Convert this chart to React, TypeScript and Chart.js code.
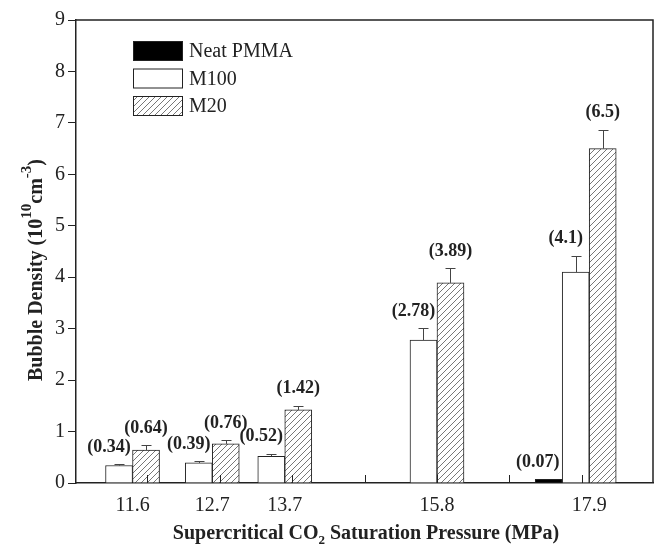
import React, { useEffect, useRef } from "react";
import { Chart, registerables } from "chart.js";

Chart.register(...registerables);

// ---------- data ----------
const pressures = [11.6, 12.7, 13.7, 15.8, 17.9];
const tickLabels = ["11.6", "12.7", "13.7", "15.8", "17.9"];
const seriesNames = ["Neat PMMA", "M100", "M20"];
const neatPMMA: (number | null)[] = [null, null, null, null, 0.07];
const m100: (number | null)[] = [0.34, 0.39, 0.52, 2.78, 4.1];
const m20: (number | null)[] = [0.64, 0.76, 1.42, 3.89, 6.5];
const neatErr: (number | null)[] = [null, null, null, null, 0];
const m100Err: (number | null)[] = [0.03, 0.03, 0.05, 0.23, 0.32];
const m20Err: (number | null)[] = [0.09, 0.07, 0.08, 0.29, 0.37];
const xTickMarks = [11.8, 12.8, 13.8, 14.8, 15.8, 16.8, 17.8];
const yMin = 0;
const yMax = 9;
const xMin = 10.82;
const xMax = 18.78;

const SERIF = "'Liberation Serif', 'Times New Roman', serif";
const INK = "#222";

function makeHatch(ctx: CanvasRenderingContext2D) {
  const s = 6;
  const c = document.createElement("canvas");
  c.width = s;
  c.height = s;
  const g = c.getContext("2d")!;
  g.fillStyle = "#fff";
  g.fillRect(0, 0, s, s);
  g.strokeStyle = "#555";
  g.lineWidth = 0.8;
  g.beginPath();
  g.moveTo(0, s);
  g.lineTo(s, 0);
  g.moveTo(-1, 1);
  g.lineTo(1, -1);
  g.moveTo(s - 1, s + 1);
  g.lineTo(s + 1, s - 1);
  g.stroke();
  return ctx.createPattern(c, "repeat")!;
}

const overlayPlugin = {
  id: "overlay",
  afterDatasetsDraw(chart: any) {
    const { ctx, chartArea: a, scales } = chart;
    const x = scales.x;
    const y = scales.y;
    ctx.save();
    // frame top/right
    ctx.strokeStyle = INK;
    ctx.lineWidth = 1.5;
    ctx.beginPath();
    ctx.moveTo(a.left, a.top);
    ctx.lineTo(a.right, a.top);
    ctx.lineTo(a.right, a.bottom);
    ctx.stroke();

    // inward x tick marks
    ctx.lineWidth = 1;
    ctx.beginPath();
    xTickMarks.forEach((v) => {
      const px = Math.round(x.getPixelForValue(v)) + 0.5;
      ctx.moveTo(px, a.bottom);
      ctx.lineTo(px, a.bottom - 8);
    });
    ctx.stroke();

    const values = [neatPMMA, m100, m20];
    const errs = [neatErr, m100Err, m20Err];
    const labelDx = [-11, -10, 0];

    // error bars
    ctx.strokeStyle = "#444";
    ctx.lineWidth = 1;
    for (let d = 0; d < 3; d++) {
      const meta = chart.getDatasetMeta(d);
      values[d].forEach((v, i) => {
        const e = errs[d][i];
        if (v == null || !e) return;
        const el = meta.data[i];
        const yTop = Math.round(y.getPixelForValue(v + e)) + 0.5;
        const yBar = y.getPixelForValue(v);
        const cx = Math.round(el.x) + 0.5;
        ctx.beginPath();
        ctx.moveTo(cx, yBar);
        ctx.lineTo(cx, yTop);
        ctx.moveTo(cx - 5, yTop);
        ctx.lineTo(cx + 5, yTop);
        ctx.stroke();
      });
    }

    // value labels
    ctx.fillStyle = INK;
    ctx.font = `bold 18px ${SERIF}`;
    ctx.textAlign = "center";
    ctx.textBaseline = "middle";
    for (let d = 0; d < 3; d++) {
      const meta = chart.getDatasetMeta(d);
      values[d].forEach((v, i) => {
        if (v == null) return;
        const e = errs[d][i] || 0;
        const el = meta.data[i];
        const top = y.getPixelForValue(v + e);
        ctx.fillText(`(${v})`, el.x + labelDx[d], top - 17);
      });
    }

    // legend
    const fills = chart.data.datasets.map((ds: any) => ds.backgroundColor);
    ctx.font = `20px ${SERIF}`;
    ctx.textAlign = "left";
    ctx.textBaseline = "middle";
    seriesNames.forEach((name, i) => {
      const bx = 133;
      const by = 41 + i * 27.5;
      ctx.fillStyle = fills[i];
      ctx.fillRect(bx, by, 50, 20);
      ctx.strokeStyle = INK;
      ctx.lineWidth = 1;
      ctx.strokeRect(bx + 0.5, by + 0.5, 49, 19);
      ctx.fillStyle = INK;
      ctx.fillText(name, 189, by + 11);
    });
    ctx.restore();
  },
  afterDraw(chart: any) {
    const { ctx } = chart;
    ctx.save();
    ctx.fillStyle = INK;
    ctx.textBaseline = "alphabetic";
    ctx.textAlign = "left";
    const big = `bold 20px ${SERIF}`;
    const sub = `bold 13px ${SERIF}`;
    const sup = `bold 15px ${SERIF}`;

    // x title with subscript
    const xParts: [string, string, number][] = [
      ["Supercritical CO", big, 0],
      ["2", sub, 5],
      [" Saturation Pressure (MPa)", big, 0],
    ];
    let total = 0;
    xParts.forEach(([t, f]) => {
      ctx.font = f;
      total += ctx.measureText(t).width;
    });
    let cx = 366 - total / 2;
    xParts.forEach(([t, f, dy]) => {
      ctx.font = f;
      ctx.fillText(t, cx, 539 + dy);
      cx += ctx.measureText(t).width;
    });

    // y title with superscripts
    const yParts: [string, string, number][] = [
      ["Bubble Density (10", big, 0],
      ["10", sup, -11],
      ["cm", big, 0],
      ["-3", sup, -11],
      [")", big, 0],
    ];
    total = 0;
    yParts.forEach(([t, f]) => {
      ctx.font = f;
      total += ctx.measureText(t).width;
    });
    ctx.translate(42, 270);
    ctx.rotate(-Math.PI / 2);
    let px = -total / 2;
    yParts.forEach(([t, f, dy]) => {
      ctx.font = f;
      ctx.fillText(t, px, dy);
      px += ctx.measureText(t).width;
    });
    ctx.restore();
  },
};

export default function App() {
  const ref = useRef<HTMLCanvasElement>(null);
  useEffect(() => {
    document.body.style.margin = "0";
    const canvas = ref.current!;
    const ctx = canvas.getContext("2d")!;
    const hatch = makeHatch(ctx);
    const toPoints = (arr: (number | null)[]) => pressures.map((p, i) => ({ x: p, y: arr[i] }));
    const chart = new Chart(ctx, {
      type: "bar",
      data: {
        datasets: [
          {
            label: seriesNames[0],
            data: toPoints(neatPMMA) as any,
            backgroundColor: "#000",
            borderColor: INK,
            borderWidth: 1,
          },
          {
            label: seriesNames[1],
            data: toPoints(m100) as any,
            backgroundColor: "#fff",
            borderColor: INK,
            borderWidth: 1,
          },
          {
            label: seriesNames[2],
            data: toPoints(m20) as any,
            backgroundColor: hatch as any,
            borderColor: INK,
            borderWidth: 1,
          },
          {
            // empty slot so the M100/M20 pair is centred on each pressure
            label: "",
            data: toPoints(pressures.map(() => null)) as any,
            backgroundColor: "rgba(0,0,0,0)",
            borderWidth: 0,
          },
        ],
      },
      options: {
        responsive: false,
        animation: false,
        devicePixelRatio: 1,
        barThickness: 27,
        layout: { padding: { top: 20, right: 2, left: 0, bottom: 0 } },
        plugins: {
          legend: { display: false },
          tooltip: { enabled: false },
        },
        scales: {
          x: {
            type: "linear",
            min: xMin,
            max: xMax,
            offset: false,
            grid: { display: false },
            border: { display: true, color: INK, width: 1.5 },
            afterBuildTicks: (scale: any) => {
              scale.ticks = pressures.map((v) => ({ value: v }));
            },
            afterFit: (scale: any) => {
              scale.height = 62;
            },
            ticks: {
              autoSkip: false,
              maxRotation: 0,
              padding: 3,
              color: INK,
              font: { family: SERIF, size: 20 },
              callback: (_v: any, i: number) => tickLabels[i],
            },
          },
          y: {
            type: "linear",
            min: yMin,
            max: yMax,
            grid: {
              drawOnChartArea: false,
              drawTicks: true,
              tickLength: 8,
              color: INK,
              lineWidth: 1,
            },
            border: { display: true, color: INK, width: 1.5 },
            afterFit: (scale: any) => {
              scale.width = 76;
            },
            ticks: {
              stepSize: 0.5,
              padding: 3,
              color: INK,
              font: { family: SERIF, size: 20 },
              callback: (v: any) => (Number.isInteger(v) ? String(v) : ""),
            },
          },
        },
      } as any,
      plugins: [overlayPlugin],
    });
    return () => chart.destroy();
  }, []);
  return (
    <div style={{ width: 655, height: 545 }}>
      <canvas ref={ref} width={655} height={545} style={{ display: "block" }} />
    </div>
  );
}
